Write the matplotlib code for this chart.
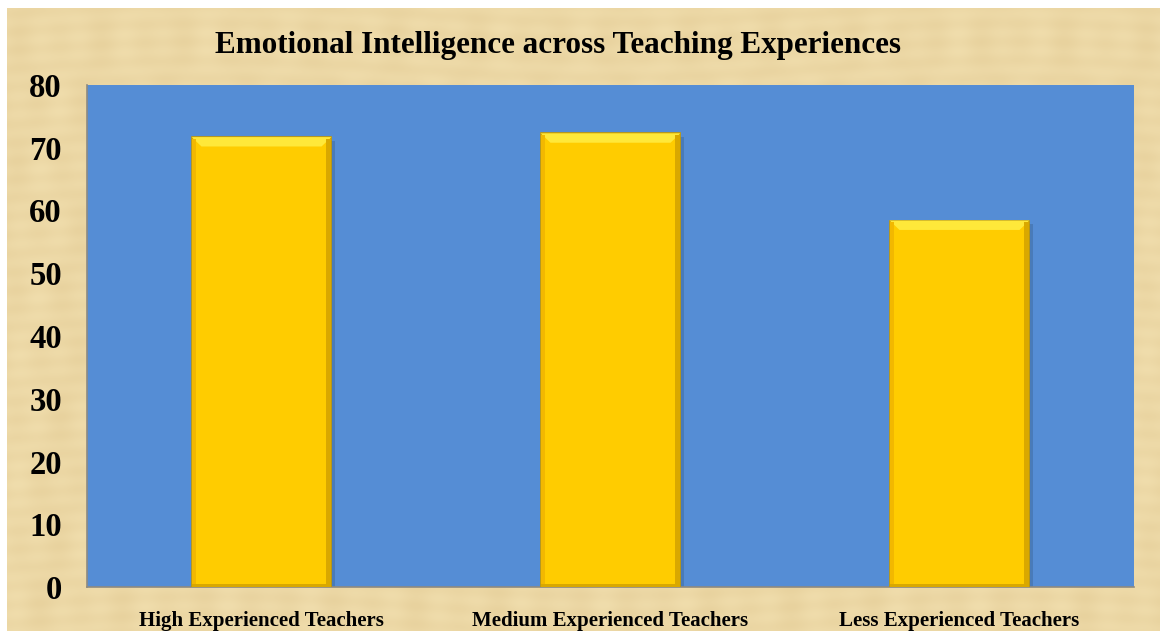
import numpy as np
import matplotlib
matplotlib.use("Agg")
import matplotlib.pyplot as plt
from matplotlib.patches import Rectangle, Polygon

categories = ["High Experienced Teachers", "Medium Experienced Teachers", "Less Experienced Teachers"]
values = [71.7, 72.3, 58.4]
yticks = [0, 10, 20, 30, 40, 50, 60, 70, 80]
title = "Emotional Intelligence across Teaching Experiences"

fig = plt.figure(figsize=(11.6, 6.31), dpi=100)
fig.patch.set_facecolor("white")

# parchment background with a subtle deterministic texture
bg = fig.add_axes([7/1160, 0, 1 - 7/1160, 1 - 8/631], zorder=-10)
gx = np.linspace(0, 1, 580)
gy = np.linspace(0, 1, 312)
X, Y = np.meshgrid(gx, gy)
tex = (0.5 * np.sin(X * 173) * np.sin(Y * 31) + 0.4 * np.sin(Y * 211 + np.sin(X * 9) * 3)
       + 0.3 * np.sin(X * 97 + Y * 5))
tex = (tex - tex.min()) / (tex.max() - tex.min())
base = np.array([240, 221, 172]) / 255.0
dark = np.array([224, 199, 144]) / 255.0
img = base[None, None, :] * (1 - tex[..., None] * 0.5) + dark[None, None, :] * (tex[..., None] * 0.5)
bg.imshow(img, aspect="auto", interpolation="bilinear", extent=[0, 1, 0, 1])
bg.set_axis_off()

ax = fig.add_axes([87/1160, 44/631, 1047/1160, 502/631])
ax.set_facecolor("#558DD5")

x = np.arange(len(categories))
w = 0.4
# drop shadow
ax.bar(x + 0.012, values, width=w, bottom=-0.6, color="#3E6A9E", alpha=0.5, zorder=2)
bars = ax.bar(x, values, width=w, color="#FFCC00", edgecolor="#C79A00", linewidth=1.2, zorder=3)
# bevel highlights derived from bar geometry
for b in bars:
    bx, bw, bh = b.get_x(), b.get_width(), b.get_height()
    ax.add_patch(Polygon([(bx, bh), (bx + bw, bh), (bx + bw * 0.93, bh - 1.5), (bx + bw * 0.07, bh - 1.5)],
                         closed=True, facecolor="#FFE83A", edgecolor="none", zorder=4))
    ax.add_patch(Rectangle((bx + bw * 0.96, 0), bw * 0.04, bh - 0.3, facecolor="#D9A800", edgecolor="none", zorder=4))
    ax.add_patch(Rectangle((bx, 0), bw * 0.03, bh - 0.3, facecolor="#F2B800", edgecolor="none", zorder=4))
    ax.add_patch(Rectangle((bx, 0), bw, 0.5, facecolor="#D9A800", edgecolor="none", zorder=4))

ax.set_xlim(-0.5, len(categories) - 0.5)
ax.set_ylim(0, 80)
ax.set_yticks(yticks)
ax.set_yticklabels([str(t) for t in yticks], fontfamily="Liberation Serif", fontweight="bold", fontsize=23.5)
ax.set_xticks(x)
ax.set_xticklabels(categories, fontfamily="Liberation Serif", fontweight="bold", fontsize=15)
ax.tick_params(axis="y", length=0, pad=18)
ax.tick_params(axis="x", length=0, pad=17)
for s in ["top", "right"]:
    ax.spines[s].set_visible(False)
for s in ["left", "bottom"]:
    ax.spines[s].set_color("#8E8A80")
    ax.spines[s].set_linewidth(1.2)

fig.text(558/1160, 1 - 46/631, title, ha="center", va="center",
         fontfamily="Liberation Serif", fontweight="bold", fontsize=22.4)

fig.savefig("out.png", dpi=100)
